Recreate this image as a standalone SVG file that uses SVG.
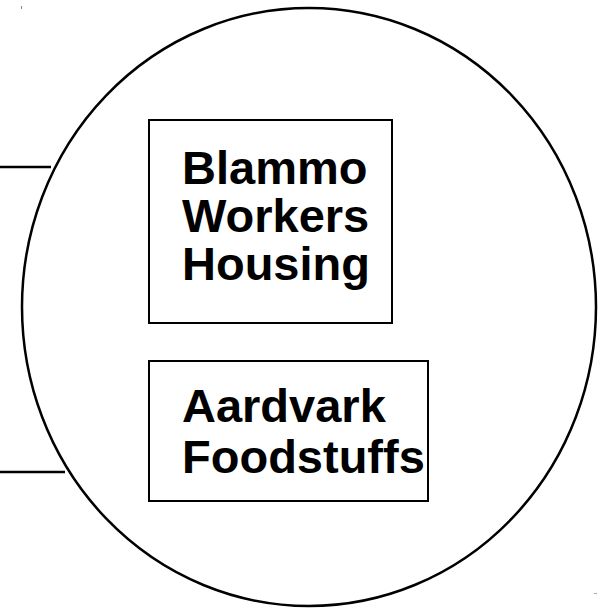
<svg xmlns="http://www.w3.org/2000/svg" width="600" height="613" viewBox="0 0 600 613">
  <style>
    .outline { fill: none; stroke: #000; stroke-width: 2.5; }
    .box { fill: #fff; stroke: #000; stroke-width: 2; }
    .label { font-family: "Liberation Sans", Arial, sans-serif; font-weight: bold; font-size: 47px; fill: #000; }
    .conn { stroke: #000; stroke-width: 2.5; fill: none; }
  </style>
  <rect width="600" height="613" fill="#fff"/>
  <!-- tiny corner ticks -->
  <line x1="21.5" y1="6" x2="21.5" y2="9" stroke="#888" stroke-width="1"/>
  <line x1="594" y1="593.5" x2="597" y2="593.5" stroke="#aaa" stroke-width="1"/>

  <g id="boundary">
    <ellipse class="outline" cx="309" cy="307" rx="287" ry="299"/>
  </g>

  <g id="connectors">
    <line class="conn" x1="0" y1="167" x2="51" y2="167"/>
    <line class="conn" x1="0" y1="472" x2="65" y2="472"/>
  </g>

  <g id="blammo">
    <rect class="box" x="149" y="120" width="243" height="203"/>
    <text class="label" x="182" y="184">Blammo</text>
    <text class="label" x="182" y="232">Workers</text>
    <text class="label" x="182" y="280">Housing</text>
  </g>

  <g id="aardvark">
    <rect class="box" x="149" y="361" width="279" height="140"/>
    <text class="label" x="182" y="422">Aardvark</text>
    <text class="label" x="182" y="473">Foodstuffs</text>
  </g>
</svg>
